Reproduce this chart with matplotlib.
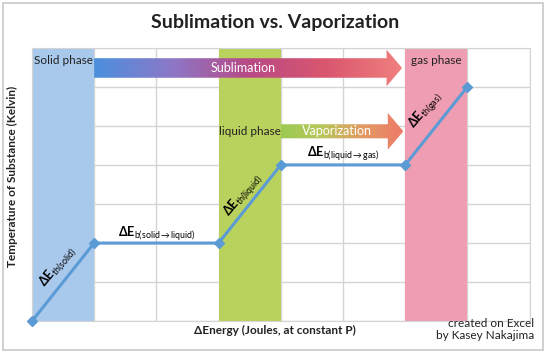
import numpy as np
import matplotlib
matplotlib.use("Agg")
import matplotlib.pyplot as plt
from matplotlib.patches import Polygon, Rectangle
from matplotlib.colors import LinearSegmentedColormap

plt.rcParams['font.family'] = ['Lato', 'DejaVu Sans']
plt.rcParams['mathtext.fontset'] = 'custom'
plt.rcParams['mathtext.rm'] = 'Lato'
plt.rcParams['mathtext.bf'] = 'Lato:bold'
plt.rcParams['mathtext.it'] = 'Lato:italic'

# heating curve (energy units, temperature units)
energy = [0, 1, 3, 4, 6, 7]
temperature = [0, 2, 2, 4, 4, 6]

# phase bands: (start, end, colour, label)
band_starts = [0, 3, 6]
band_ends = [1, 4, 7]
band_colors = ['#a9c9ec', '#b9d25e', '#ee9db2']
band_labels = ['Solid phase', 'liquid phase', 'gas phase']

# segment labels
seg_labels = [r'$\mathbf{\Delta E}_{\mathrm{th(solid)}}$',
              r'$\mathbf{\Delta E}_{\mathrm{b(solid}\rightarrow\mathrm{liquid)}}$',
              r'$\mathbf{\Delta E}_{\mathrm{th(liquid)}}$',
              r'$\mathbf{\Delta E}_{\mathrm{b(liquid}\rightarrow\mathrm{gas)}}$',
              r'$\mathbf{\Delta E}_{\mathrm{th(gas)}}$']

# gradient arrows
arrow_names = ['Sublimation', 'Vaporization']
arrow_start = [1.0, 4.0]
arrow_tip = [5.95, 5.97]
arrow_mid = [6.48, 4.86]
arrow_colors = [['#4b8fde', '#8c78c8', '#b84a86', '#d9566e', '#f0807e'],
                ['#9bca52', '#b8c65a', '#e39a62', '#ee7a6a']]

fig = plt.figure(figsize=(5.5, 3.53), dpi=100)
fig.patches.append(Rectangle((0.006, 0.008), 0.982, 0.983, transform=fig.transFigure,
                             fill=False, edgecolor='#c8c8c8', linewidth=1.2))
ax = fig.add_axes([0.058, 0.09, 0.905, 0.775])
ax.set_xlim(0, 8)
ax.set_ylim(0, 7)
ax.set_xticks(range(9))
ax.set_yticks(range(8))
ax.tick_params(length=0, labelbottom=False, labelleft=False)
ax.grid(True, color='#d4d4d4', linewidth=1)
ax.set_axisbelow(True)
for s in ax.spines.values():
    s.set_color('#d4d4d4')

for x0, x1, c in zip(band_starts, band_ends, band_colors):
    ax.axvspan(x0, x1, color=c, zorder=1, lw=0)

ax.plot(energy, temperature, color='#5b9bd5', lw=2.2, marker='D', ms=5,
        zorder=5, clip_on=False)

# phase labels
ax.text(0.04, 6.68, band_labels[0], ha='left', va='center', fontsize=8.5, color='#222222', zorder=6)
ax.text(3.5, 4.86, band_labels[1], ha='center', va='center', fontsize=8.5, color='#222222', zorder=6)
ax.text(6.5, 6.68, band_labels[2], ha='center', va='center', fontsize=8.5, color='#222222', zorder=6)

# gradient arrows
for name, x0, x1, ym, cols in zip(arrow_names, arrow_start, arrow_tip, arrow_mid, arrow_colors):
    bh = 0.25 if name == 'Sublimation' else 0.18
    hh = 0.47
    hb = x1 - 0.25
    pts = [(x0, ym - bh), (hb, ym - bh), (hb, ym - hh), (x1, ym),
           (hb, ym + hh), (hb, ym + bh), (x0, ym + bh)]
    poly = Polygon(pts, closed=True, facecolor='none', edgecolor='none', zorder=3)
    ax.add_patch(poly)
    cmap = LinearSegmentedColormap.from_list(name, cols)
    grad = np.linspace(0, 1, 256).reshape(1, -1)
    im = ax.imshow(grad, cmap=cmap, aspect='auto', extent=(x0, x1, ym - hh, ym + hh),
                   zorder=3, interpolation='bilinear')
    im.set_clip_path(poly)
    ax.text((x0 + hb) / 2 + 0.05, ym, name, ha='center', va='center', color='white',
            fontsize=9, zorder=4)
ax.set_xlim(0, 8)
ax.set_ylim(0, 7)

# segment labels
ax.text(0.42, 1.38, seg_labels[0], rotation=50, ha='center', va='center', fontsize=9, zorder=6)
ax.text(2.0, 2.25, seg_labels[1], ha='center', va='center', fontsize=9, zorder=6)
ax.text(3.4, 3.22, seg_labels[2], rotation=50, ha='center', va='center', fontsize=9, zorder=6)
ax.text(5.0, 4.3, seg_labels[3], ha='center', va='center', fontsize=9, zorder=6)
ax.text(6.33, 5.4, seg_labels[4], rotation=50, ha='center', va='center', fontsize=9, zorder=6)

fig.text(0.5, 0.935, 'Sublimation vs. Vaporization', ha='center', va='center',
         fontsize=14, fontweight='bold', color='#222222')
fig.text(0.022, 0.5, 'Temperature of Substance (Kelvin)', rotation=90, ha='center',
         va='center', fontsize=8.5, fontweight='bold', color='#222222')
fig.text(0.5, 0.064, 'ΔEnergy (Joules, at constant P)', ha='center', va='center',
         fontsize=8.5, fontweight='bold', color='#222222')
fig.text(0.971, 0.066, 'created on Excel\nby Kasey Nakajima', ha='right', va='center',
         fontsize=8.5, color='#222222', linespacing=1.15)

fig.savefig('out.png', dpi=100)
